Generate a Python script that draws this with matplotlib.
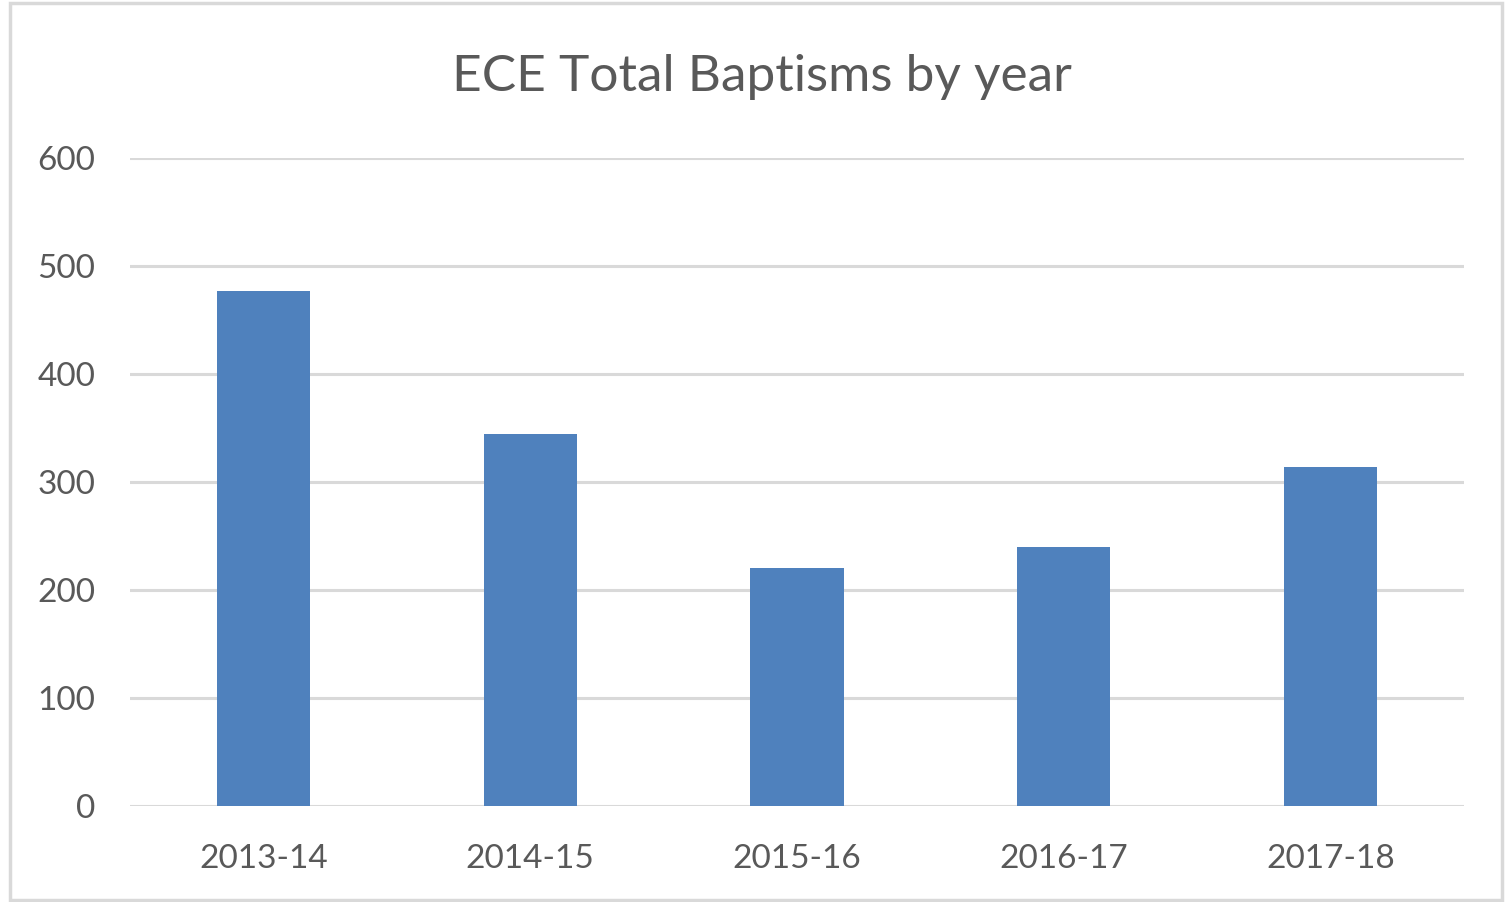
import matplotlib
matplotlib.use("Agg")
import matplotlib.pyplot as plt
from matplotlib.patches import Rectangle

# values
years = ["2013-14", "2014-15", "2015-16", "2016-17", "2017-18"]
baptisms = [477, 344, 220, 240, 314]
y_ticks = [0, 100, 200, 300, 400, 500, 600]

text_color = "#595959"
grid_color = "#d9d9d9"
bar_color = "#4f81bd"

plt.rcParams['font.family'] = ['Lato', 'DejaVu Sans']

fig = plt.figure(figsize=(15.06, 9.02), dpi=100)
ax = fig.add_axes([130 / 1506, 96 / 902, 1334 / 1506, 648 / 902])

x = range(len(years))
ax.bar(x, baptisms, width=0.35, color=bar_color, zorder=3)

ax.set_xlim(-0.5, len(years) - 0.5)
ax.set_ylim(0, 600)
ax.set_yticks(y_ticks)
ax.set_xticks(list(x))
ax.set_xticklabels(years)

ax.grid(axis='y', color=grid_color, linewidth=2.2, zorder=0)
ax.set_axisbelow(True)
for side in ["top", "right", "left", "bottom"]:
    ax.spines[side].set_visible(False)
ax.tick_params(axis='both', length=0, labelsize=24, colors=text_color)
ax.tick_params(axis='y', pad=25)
ax.tick_params(axis='x', pad=27)

fig.text(0.506, 1 - 77 / 902, "ECE Total Baptisms by year", ha='center', va='center',
         fontsize=37, color=text_color)

# light frame around the chart, as in the spreadsheet export
fig.patches.append(Rectangle((10 / 1506, 2 / 902), 1492 / 1506, 897 / 902,
                             transform=fig.transFigure, fill=False,
                             edgecolor=grid_color, linewidth=2.5))

fig.savefig("out.png", dpi=100)
